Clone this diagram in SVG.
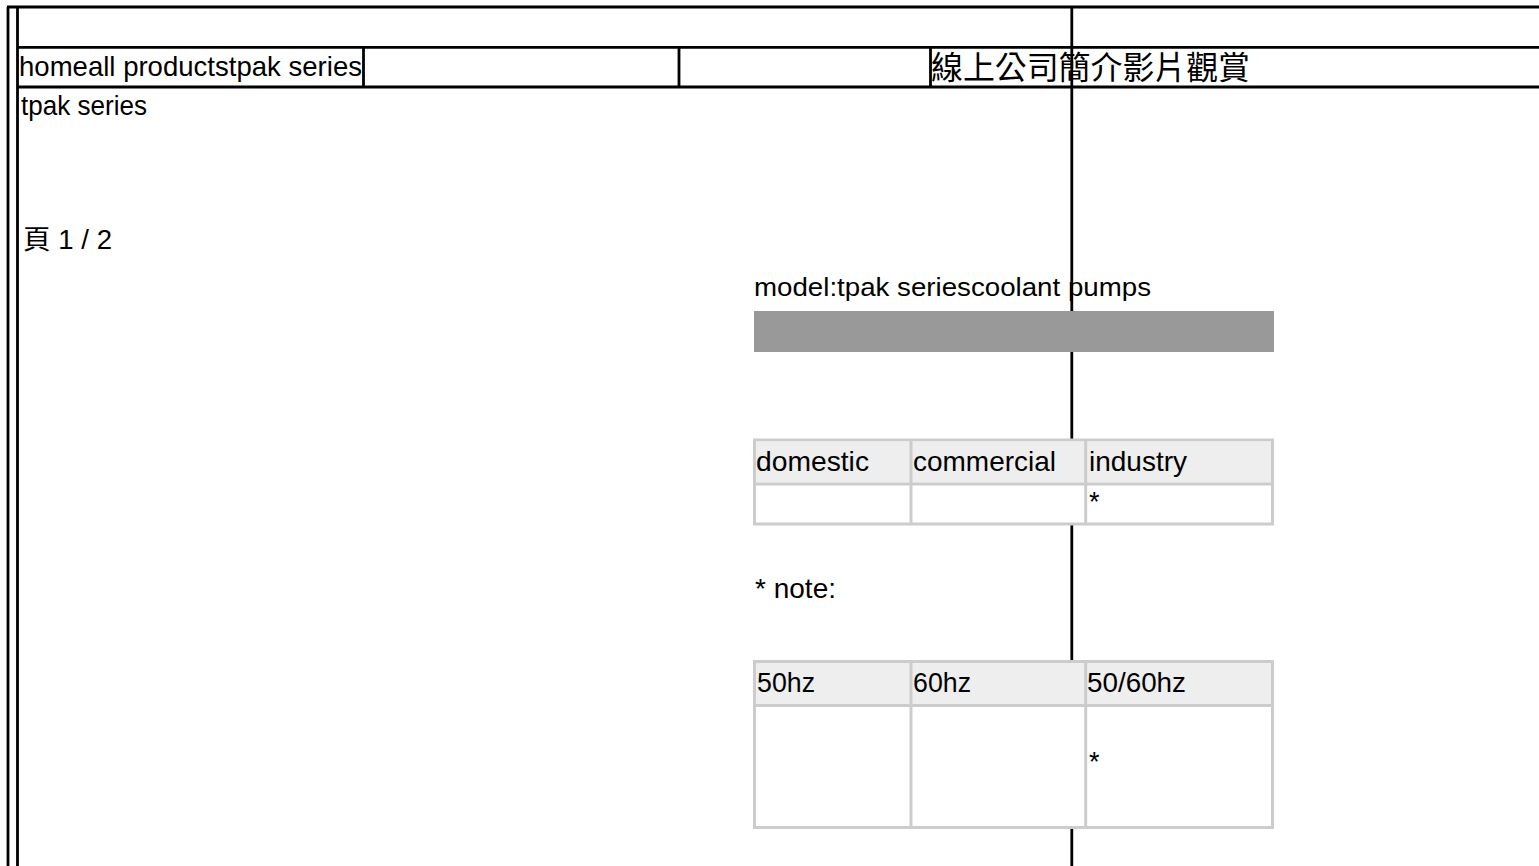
<svg xmlns="http://www.w3.org/2000/svg" width="1539" height="866" viewBox="0 0 1539 866">
<style>
.ln{stroke:#000;stroke-width:2.8;fill:none}
.t{font-family:"Liberation Sans","Noto Sans CJK TC",Arial,sans-serif;fill:#000}
.cjk{font-family:"Noto Sans CJK TC","Liberation Sans",sans-serif;fill:#000}
.tb{fill:#fff;stroke:#ccc;stroke-width:3}
.hd{fill:#eee}
.cl{stroke:#ccc;stroke-width:3}
</style>
<rect width="1539" height="866" fill="#fff"/>
<g id="connectors">
<line class="ln" x1="8" y1="7" x2="8" y2="866"/>
<line class="ln" x1="17.5" y1="7" x2="17.5" y2="866"/>
<line class="ln" x1="7" y1="7" x2="1539" y2="7"/>
<line class="ln" x1="17" y1="47.3" x2="1539" y2="47.3"/>
<line class="ln" x1="17" y1="87" x2="1539" y2="87"/>
<line class="ln" x1="363.5" y1="47" x2="363.5" y2="87"/>
<line class="ln" x1="679" y1="47" x2="679" y2="87"/>
<line class="ln" x1="930.5" y1="47" x2="930.5" y2="87"/>
<line class="ln" x1="1071.8" y1="7" x2="1071.8" y2="866"/>
</g>
<g id="breadcrumb">
<text class="t" x="19" y="76" font-size="28" textLength="343" lengthAdjust="spacingAndGlyphs">homeall productstpak series</text>
</g>
<g id="video-link">
<text class="cjk" x="931" y="79" font-size="32" textLength="319" lengthAdjust="spacingAndGlyphs">線上公司簡介影片觀賞</text>
</g>
<g id="title">
<text class="t" x="21" y="115" font-size="27" textLength="126" lengthAdjust="spacingAndGlyphs">tpak series</text>
</g>
<g id="page">
<text class="t" x="23" y="249" font-size="27" textLength="89" lengthAdjust="spacingAndGlyphs">頁 1 / 2</text>
</g>
<g id="model">
<text class="t" x="754" y="296" font-size="26" textLength="397" lengthAdjust="spacingAndGlyphs">model:tpak seriescoolant pumps</text>
<rect x="754" y="311" width="520" height="41" fill="#999"/>
</g>
<g id="usage-table">
<rect class="tb" x="754.5" y="440" width="518" height="84"/>
<rect class="hd" x="756" y="441.5" width="515" height="41"/>
<line class="cl" x1="754.5" y1="484" x2="1272.5" y2="484"/>
<line class="cl" x1="911" y1="440" x2="911" y2="524"/>
<line class="cl" x1="1085.7" y1="440" x2="1085.7" y2="524"/>
<text class="t" x="756" y="471" font-size="28" textLength="113" lengthAdjust="spacingAndGlyphs">domestic</text>
<text class="t" x="913" y="471" font-size="28" textLength="143" lengthAdjust="spacingAndGlyphs">commercial</text>
<text class="t" x="1089" y="471" font-size="28" textLength="98" lengthAdjust="spacingAndGlyphs">industry</text>
<text class="t" x="1089" y="511" font-size="27">*</text>
</g>
<g id="note">
<text class="t" x="755" y="598" font-size="28" textLength="81" lengthAdjust="spacingAndGlyphs">* note:</text>
</g>
<g id="frequency-table">
<rect class="tb" x="754.5" y="661.5" width="518" height="166"/>
<rect class="hd" x="756" y="663" width="515" height="41"/>
<line class="cl" x1="754.5" y1="705.5" x2="1272.5" y2="705.5"/>
<line class="cl" x1="911" y1="661.5" x2="911" y2="827.5"/>
<line class="cl" x1="1085.7" y1="661.5" x2="1085.7" y2="827.5"/>
<text class="t" x="757" y="692" font-size="28" textLength="58" lengthAdjust="spacingAndGlyphs">50hz</text>
<text class="t" x="913" y="692" font-size="28" textLength="58" lengthAdjust="spacingAndGlyphs">60hz</text>
<text class="t" x="1087" y="692" font-size="28" textLength="99" lengthAdjust="spacingAndGlyphs">50/60hz</text>
<text class="t" x="1089" y="771" font-size="27">*</text>
</g>
</svg>
